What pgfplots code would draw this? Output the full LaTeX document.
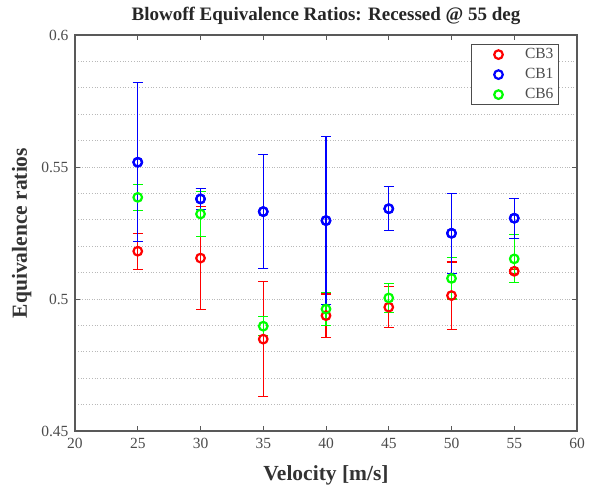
\documentclass[border=0pt]{standalone}
\usepackage{fontspec}
\setmainfont{Liberation Serif}
\usepackage{pgfplots}
\usepackage{pgfplotstable}
\pgfplotsset{compat=1.18}

% velocity, ratio, half error
\pgfplotstableread{
x   y      e
25  0.5181 0.0068
30  0.5155 0.0196
35  0.4848 0.0218
40  0.4937 0.0082
45  0.4969 0.0077
50  0.5013 0.0127
55  0.5105 0.0008
}\cbthree
\pgfplotstableread{
x   y      e
25  0.5518 0.0301
30  0.5379 0.0041
35  0.5331 0.0217
40  0.5297 0.0317
45  0.5342 0.0083
50  0.5249 0.0152
55  0.5306 0.0076
}\cbone
\pgfplotstableread{
x   y      e
25  0.5385 0.0050
30  0.5322 0.0085
35  0.4897 0.0036
40  0.4962 0.0063
45  0.5004 0.0054
50  0.5078 0.0078
55  0.5152 0.0091
}\cbsix

\begin{document}
\begin{tikzpicture}
\begin{axis}[
scale only axis,
width=502pt,
height=396pt,
xmin=20, xmax=60,
ymin=0.45, ymax=0.6,
xtick={20,25,30,35,40,45,50,55,60},
ytick={0.45,0.5,0.55,0.6},
minor ytick={0.46,0.47,0.48,0.49,0.51,0.52,0.53,0.54,0.56,0.57,0.58,0.59},
ymajorgrids, yminorgrids,
grid style={dotted, gray!55, line width=0.8pt},
minor grid style={dotted, gray!55, line width=0.8pt},
tick align=inside,
major tick length=5pt,
minor tick length=0pt,
tick style={black!65, line width=0.8pt},
axis line style={black!65, line width=1.3pt},
/pgf/number format/assume math mode=true,
yticklabel style={/pgf/number format/fixed, /pgf/number format/precision=2, xshift=-3pt},
xticklabel style={yshift=-4pt},
tick label style={font=\fontsize{15.5}{16}\selectfont, color=black!70},
title={Blowoff Equivalence Ratios: Recessed @ 55 deg},
title style={font=\bfseries\fontsize{19}{20}\selectfont, color=black!85,
  at={(axis description cs:0.5,1)}, anchor=base, yshift=8pt},
xlabel={Velocity [m/s]},
ylabel={Equivalence ratios},
label style={font=\bfseries\fontsize{21.5}{22}\selectfont, color=black!80},
xlabel style={at={(axis description cs:0.5,0)}, anchor=base, yshift=-49pt},
ylabel style={at={(axis description cs:0,0.5)}, anchor=base, yshift=48pt},
legend style={at={(0.964,0.977)}, anchor=north east, draw=black!70, line width=1pt,
  font=\fontsize{15.5}{16}\selectfont, text=black!70,
  inner xsep=5pt, inner ysep=3pt, row sep=6pt,
  nodes={inner sep=0pt, text height=11pt, text depth=3pt},
  /tikz/every odd column/.append style={column sep=8pt}},
legend cell align=right,
legend image code/.code={\path (0pt,0pt) (40pt,0pt);
  \draw[#1] plot coordinates {(22pt,0pt)};},
error bars/y dir=both,
error bars/y explicit,
error bars/error mark options={rotate=90, mark size=5pt, line width=1.1pt},
]
\coordinate (sw) at (rel axis cs:0,0);
\coordinate (ne) at (rel axis cs:1,1);
\addplot[only marks, red, mark=o, mark size=4.3pt, mark options={line width=2.2pt},
  error bars/error bar style={draw=red, line width=1.1pt}]
  table[x=x, y=y, y error=e] {\cbthree};
\addplot[only marks, blue, mark=o, mark size=4.3pt, mark options={line width=2.2pt},
  error bars/error bar style={draw=blue, line width=1.1pt}]
  table[x=x, y=y, y error=e] {\cbone};
\addplot[only marks, green, mark=o, mark size=4.3pt, mark options={line width=2.2pt},
  error bars/error bar style={draw=green, line width=1.1pt}]
  table[x=x, y=y, y error=e] {\cbsix};
\legend{CB3, CB1, CB6}
% CB1 again on top, as in the reference
\addplot[forget plot, only marks, blue, mark=o, mark size=4.3pt, mark options={line width=2.2pt},
  error bars/error bar style={draw=blue, line width=1.1pt}]
  table[x=x, y=y, y error=e] {\cbone};
\end{axis}
\pgfresetboundingbox
\path ([shift={(-75pt,-56pt)}]sw) rectangle ([shift={(16pt,35pt)}]ne);
\end{tikzpicture}
\end{document}
